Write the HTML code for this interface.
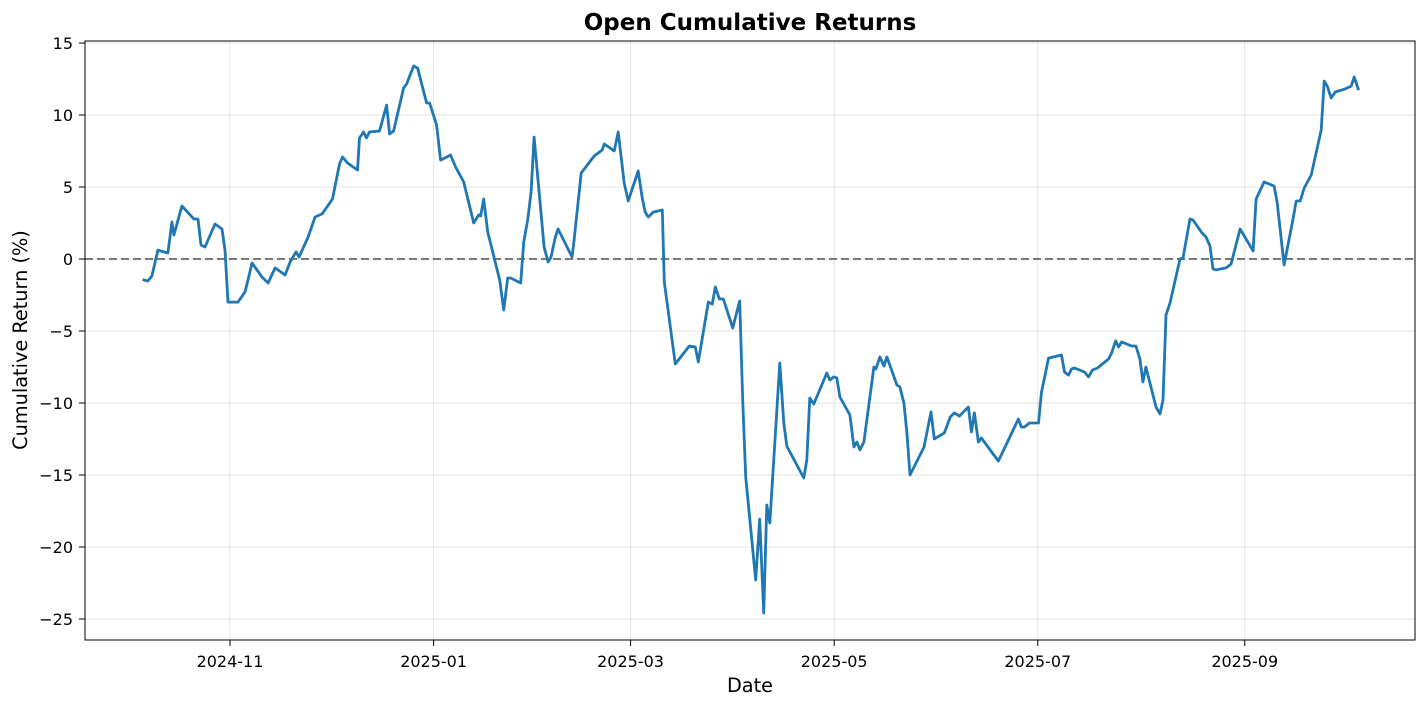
<!DOCTYPE html>
<html><head><meta charset="utf-8"><style>
html,body{margin:0;padding:0;background:#fff;}
svg{display:block;font-family:"DejaVu Sans","Liberation Sans",sans-serif;}
</style></head><body>
<svg id="chart" width="1427" height="708" viewBox="0 0 1427 708">
<rect x="0" y="0" width="1427" height="708" fill="#fff"/>
<text x="750" y="30" text-anchor="middle" font-size="23" font-weight="bold" fill="#000">Open Cumulative Returns</text>
<g id="grid"></g>
<g id="zero"></g>
<g id="series"></g>
<rect x="85" y="41" width="1330" height="599" fill="none" stroke="#000" stroke-width="1"/>
<g id="xticks"></g>
<g id="yticks"></g>
<text x="750" y="692" text-anchor="middle" font-size="19.3" fill="#000">Date</text>
<text transform="translate(27,340) rotate(-90)" text-anchor="middle" font-size="19.3" fill="#000">Cumulative Return (%)</text>
</svg>
<script>
// days since 2024-11-01
const days = [-25.8,-24.6,-23.4,-21.6,-18.6,-17.4,-16.8,-14.4,-10.8,-9.6,-8.7,-7.5,-4.5,-2.4,-1.5,-0.6,2.4,4.5,5.4,6.6,9.6,11.4,13.5,16.5,18.0,19.8,20.7,23.4,25.5,27.6,30.7,32.8,33.7,35.2,38.2,38.8,40.0,40.9,41.8,44.8,46.9,47.8,49.0,52.0,52.9,55.0,56.2,58.9,59.8,61.9,63.1,66.1,67.6,70.0,73.0,74.5,75.1,76.0,77.2,80.8,82.0,83.2,84.1,87.1,88.0,89.2,90.2,91.1,94.1,95.3,96.2,97.4,98.3,101.3,102.5,103.1,105.2,109.1,110.3,111.5,112.1,115.1,116.3,118.1,119.3,122.3,123.5,124.4,125.3,126.8,129.5,130.1,133.4,137.6,139.4,140.3,143.3,144.5,145.4,146.6,147.8,150.6,152.7,153.6,154.5,157.5,158.7,159.9,160.8,161.7,164.7,165.9,166.8,171.9,172.8,173.7,174.9,178.8,179.7,180.9,181.8,182.7,185.7,186.9,187.8,188.7,189.9,192.9,193.5,194.7,195.9,196.8,199.8,200.7,201.9,202.8,203.7,207.9,210.0,211.0,214.0,215.8,217.0,218.5,221.2,222.1,223.0,224.2,225.1,228.4,230.2,236.2,237.1,238.0,239.5,242.2,243.1,244.0,245.2,249.1,250.0,251.2,252.1,253.0,256.0,257.2,258.4,259.9,263.2,264.1,265.3,266.2,267.1,270.1,271.4,272.6,273.5,274.4,277.4,278.6,279.5,280.4,281.6,284.6,285.5,287.6,288.5,291.2,292.4,293.6,294.5,295.4,298.4,299.9,302.6,306.5,307.4,309.8,312.8,313.7,315.8,318.5,319.4,320.6,321.8,323.9,326.9,327.8,328.7,329.9,331.1,334.1,335.9,336.8,338.0];
const returns = [-1.46,-1.53,-1.18,0.62,0.42,2.57,1.67,3.68,2.78,2.78,0.97,0.83,2.43,2.08,0.62,-2.99,-2.99,-2.29,-1.46,-0.28,-1.25,-1.67,-0.62,-1.11,-0.21,0.49,0.14,1.53,2.92,3.13,4.17,6.6,7.08,6.67,6.18,8.4,8.82,8.4,8.82,8.89,10.69,8.68,8.89,11.87,12.15,13.4,13.26,10.83,10.83,9.3,6.87,7.22,6.39,5.35,2.5,3.06,2.99,4.17,1.88,-1.46,-3.54,-1.32,-1.32,-1.67,1.18,2.71,4.65,8.47,0.83,-0.21,0.14,1.46,2.08,0.69,0.14,1.32,5.97,7.15,7.36,7.57,7.99,7.5,8.82,5.28,4.03,6.11,4.24,3.26,2.92,3.26,3.4,-1.6,-7.29,-6.04,-6.11,-7.15,-2.99,-3.13,-1.94,-2.78,-2.78,-4.79,-2.92,-9.79,-15.14,-22.29,-18.06,-24.58,-17.08,-18.33,-7.22,-11.39,-12.99,-15.21,-13.96,-9.65,-10.07,-7.92,-8.4,-8.19,-8.26,-9.58,-10.83,-13.06,-12.71,-13.26,-12.71,-7.5,-7.64,-6.8,-7.43,-6.8,-8.75,-8.89,-10.0,-12.08,-15.0,-13.06,-10.62,-12.5,-12.08,-10.97,-10.69,-10.9,-10.28,-12.01,-10.69,-12.71,-12.43,-13.47,-14.03,-11.11,-11.67,-11.67,-11.39,-11.39,-9.24,-8.26,-6.88,-6.67,-7.85,-8.06,-7.64,-7.57,-7.85,-8.19,-7.71,-7.57,-6.94,-6.53,-5.69,-6.11,-5.76,-6.04,-6.04,-6.94,-8.54,-7.5,-10.28,-10.76,-9.79,-3.89,-3.06,0.0,0.07,2.78,2.71,1.81,1.53,0.9,-0.69,-0.76,-0.62,-0.35,2.08,0.56,4.17,5.35,5.07,3.96,-0.42,2.85,4.03,4.03,4.93,5.83,8.96,12.36,12.01,11.18,11.6,11.81,12.01,12.64,11.81];
const yTickValues = [-25,-20,-15,-10,-5,0,5,10,15];
const xTickDays = [0,61,120,181,242,304];
const xTickLabels = ["2024-11","2025-01","2025-03","2025-05","2025-07","2025-09"];

const NS = "http://www.w3.org/2000/svg";
function xScale(d){ return 230 + d * 3.338; }
function yScale(v){ return 259 - v * 14.4; }
function mk(tag, attrs, parent){ const e = document.createElementNS(NS, tag); for (const k in attrs) e.setAttribute(k, attrs[k]); parent.appendChild(e); return e; }

const grid = document.getElementById('grid');
const xt = document.getElementById('xticks');
const yt = document.getElementById('yticks');

yTickValues.forEach(v => {
  const y = yScale(v);
  const g = mk('line', {x1:85, x2:1415, y1:y, y2:y, stroke:'#b0b0b0', 'stroke-opacity':0.35, 'stroke-width':1}, grid);
  
  
  const t = mk('line', {x1:79, x2:85, y1:y, y2:y, stroke:'#000', 'stroke-width':1}, yt);
  
  
  const l = mk('text', {x:73, y:y+5.8, 'text-anchor':'end', 'font-size':16, fill:'#000'}, yt);
  l.textContent = v < 0 ? '\u2212' + Math.abs(v) : String(v);
  
  
});

xTickDays.forEach((d, i) => {
  const x = xScale(d);
  const g = mk('line', {x1:x, x2:x, y1:41, y2:640, stroke:'#b0b0b0', 'stroke-opacity':0.35, 'stroke-width':1}, grid);
  
  
  const t = mk('line', {x1:x, x2:x, y1:640, y2:646, stroke:'#000', 'stroke-width':1}, xt);
  
  
  const l = mk('text', {x:x, y:667, 'text-anchor':'middle', 'font-size':16, fill:'#000'}, xt);
  l.textContent = xTickLabels[i];
  
  
});

const zl = mk('line', {x1:85, x2:1415, y1:yScale(0), y2:yScale(0), stroke:'#000', 'stroke-opacity':0.5, 'stroke-width':2, 'stroke-dasharray':'8,4'}, document.getElementById('zero'));



const pts = days.map((d, i) => xScale(d).toFixed(1) + ',' + yScale(returns[i]).toFixed(1)).join(' ');
const pl = mk('polyline', {points:pts, fill:'none', stroke:'#1f77b4', 'stroke-width':2.8, 'stroke-linejoin':'round', 'stroke-linecap':'square'}, document.getElementById('series'));


</script>
</body></html>
